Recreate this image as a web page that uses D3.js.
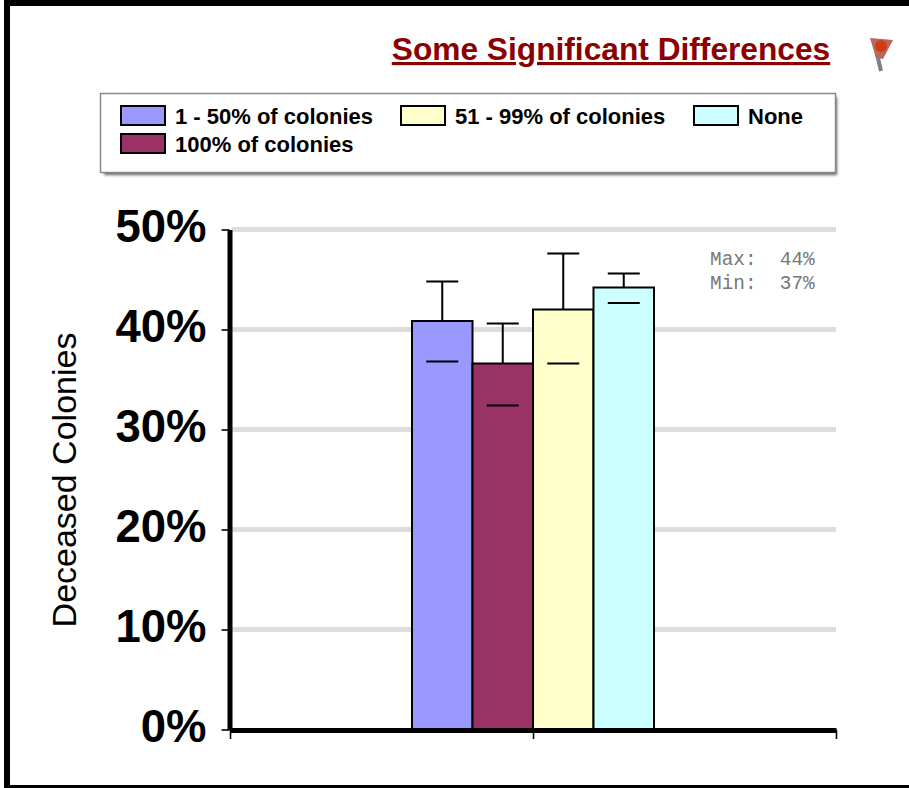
<!DOCTYPE html>
<html>
<head>
<meta charset="utf-8">
<script src="https://cdnjs.cloudflare.com/ajax/libs/d3/7.8.5/d3.min.js"></script>
<style>
  html, body { margin: 0; padding: 0; background: #fff; overflow: hidden; }
  text { font-family: "Liberation Sans", Arial, sans-serif; }
</style>
</head>
<body>
<script>
// Values (percent of deceased colonies)
const categories = ["1 - 50% of colonies", "100% of colonies", "51 - 99% of colonies", "None"];
const barValues = [40.85, 36.6, 42.0, 44.2];
const errHigh = [44.8, 40.6, 47.6, 45.6];
const errLow = [36.8, 32.4, 36.6, 42.65];
const barColors = ["#9999ff", "#993366", "#ffffcc", "#ccffff"];
const yTicks = [0, 10, 20, 30, 40, 50];
const statLines = ["Max:  44%", "Min:  37%"];

const svg = d3.select("body").append("svg")
    .attr("width", 909)
    .attr("height", 788);

const defs = svg.append("defs");
defs.append("filter").attr("id", "soft")
    .attr("x", "-10%").attr("y", "-20%").attr("width", "120%").attr("height", "140%")
    .append("feGaussianBlur").attr("stdDeviation", 1.6);
defs.append("filter").attr("id", "softFlag")
    .append("feGaussianBlur").attr("stdDeviation", 0.6);

// Outer frame (left, top and bottom edges)
svg.append("path")
    .attr("d", "M4,0H909V6H10V785H909V788H4Z")
    .attr("fill", "#000");

// Title
svg.append("text")
    .attr("x", 611)
    .attr("y", 60)
    .attr("text-anchor", "middle")
    .attr("font-size", 31.7)
    .attr("font-weight", "bold")
    .attr("fill", "#8b0000")
    .attr("text-decoration", "underline")
    .text("Some Significant Differences");

// Little flag next to the title
const flag = svg.append("g").attr("transform", "translate(880,50)");
flag.append("path")
    .attr("d", "M-3,4L1,21")
    .attr("stroke", "#77808c")
    .attr("stroke-width", 4);
const flagHead = flag.append("g").attr("filter", "url(#softFlag)");
flagHead.append("path")
    .attr("d", "M-10,-12L13,-10L3,9L-4,8Z")
    .attr("fill", "#b9685c");
flagHead.append("circle")
    .attr("r", 6)
    .attr("cx", 1)
    .attr("cy", -4)
    .attr("fill", "#d23c14");

// Scales
const y = d3.scaleLinear().domain([0, 50]).range([729.5, 229.5]);
const xOuter = d3.scaleBand().domain(["all"]).range([230, 836]);
const groupW = 242;
const groupMid = xOuter("all") + xOuter.bandwidth() / 2;
const x = d3.scaleBand().domain(categories).range([groupMid - groupW / 2, groupMid + groupW / 2]);

// Grid lines
svg.append("g").selectAll("line")
    .data(yTicks.filter(d => d > 0))
    .join("line")
    .attr("x1", 232)
    .attr("x2", 836)
    .attr("y1", d => y(d))
    .attr("y2", d => y(d))
    .attr("stroke", "#dddddd")
    .attr("stroke-width", 5);

// Error bars first so the bars sit on top of the stems, low caps drawn after
const bw = x.bandwidth();
const capW = 16;

svg.append("g").selectAll("line")
    .data(categories)
    .join("line")
    .attr("x1", d => x(d) + bw / 2)
    .attr("x2", d => x(d) + bw / 2)
    .attr("y1", (d, i) => y(barValues[i]))
    .attr("y2", (d, i) => y(errHigh[i]))
    .attr("stroke", "#000")
    .attr("stroke-width", 2);

svg.append("g").selectAll("line")
    .data(categories)
    .join("line")
    .attr("x1", d => x(d) + bw / 2 - capW)
    .attr("x2", d => x(d) + bw / 2 + capW)
    .attr("y1", (d, i) => y(errHigh[i]))
    .attr("y2", (d, i) => y(errHigh[i]))
    .attr("stroke", "#000")
    .attr("stroke-width", 2);

// Bars
svg.append("g").selectAll("rect")
    .data(categories)
    .join("rect")
    .attr("x", d => x(d))
    .attr("y", (d, i) => y(barValues[i]))
    .attr("width", bw)
    .attr("height", (d, i) => y(0) - y(barValues[i]))
    .attr("fill", (d, i) => barColors[i])
    .attr("stroke", "#000")
    .attr("stroke-width", 2);

// Lower caps
svg.append("g").selectAll("line")
    .data(categories)
    .join("line")
    .attr("x1", d => x(d) + bw / 2 - capW)
    .attr("x2", d => x(d) + bw / 2 + capW)
    .attr("y1", (d, i) => y(errLow[i]))
    .attr("y2", (d, i) => y(errLow[i]))
    .attr("stroke", "#000")
    .attr("stroke-width", 2);

// Y axis
const yAxis = d3.axisLeft(y).tickValues(yTicks).tickFormat(d => d + "%")
    .tickSizeInner(8).tickSizeOuter(0).tickPadding(15);
const yG = svg.append("g").attr("transform", "translate(229.5,0)").call(yAxis);
yG.select(".domain").attr("stroke-width", 5);
yG.selectAll(".tick line").attr("stroke-width", 1.6);
yG.selectAll(".tick text")
    .attr("font-family", "Liberation Sans")
    .attr("font-size", 45.5)
    .attr("font-weight", "bold")
    .attr("fill", "#000")
    .attr("dy", "0.27em");

// X axis, one unlabelled group
const xAxis = d3.axisBottom(d3.scaleLinear().domain([0, 2]).range([230, 836]))
    .tickValues([0, 1, 2]).tickFormat("").tickSizeInner(9).tickSizeOuter(0);
const xG = svg.append("g").attr("transform", "translate(0,730)").call(xAxis);
xG.select(".domain").attr("stroke-width", 5);
xG.selectAll(".tick line").attr("stroke-width", 1.6);

// Y axis title
svg.append("text")
    .attr("transform", "translate(76,480) rotate(-90)")
    .attr("text-anchor", "middle")
    .attr("font-size", 34)
    .attr("fill", "#000")
    .text("Deceased Colonies");

// Max / min note
svg.append("g").selectAll("text")
    .data(statLines)
    .join("text")
    .attr("x", 710)
    .attr("y", (d, i) => 265 + i * 24)
    .style("font-family", "'Liberation Mono', monospace")
    .attr("font-size", 19.4)
    .attr("fill", "#777")
    .style("white-space", "pre")
    .text(d => d);

// Legend
svg.append("rect")
    .attr("x", 104).attr("y", 97).attr("width", 733).attr("height", 78)
    .attr("fill", "#666")
    .attr("filter", "url(#soft)");
svg.append("rect")
    .attr("x", 100.5).attr("y", 93.5).attr("width", 735).attr("height", 79)
    .attr("fill", "#fff")
    .attr("stroke", "#888")
    .attr("stroke-width", 1.5);

const legendX = [121, 401, 694, 121];
const legendY = [106, 106, 106, 134];
const legendOrder = ["1 - 50% of colonies", "51 - 99% of colonies", "None", "100% of colonies"];
const legend = svg.append("g").selectAll("g")
    .data(legendOrder)
    .join("g")
    .attr("transform", (d, i) => `translate(${legendX[i]},${legendY[i]})`);
legend.append("rect")
    .attr("width", 44)
    .attr("height", 19)
    .attr("fill", d => barColors[categories.indexOf(d)])
    .attr("stroke", "#000")
    .attr("stroke-width", 2);
legend.append("text")
    .attr("x", 54)
    .attr("y", 18)
    .attr("font-size", 22)
    .attr("font-weight", "bold")
    .attr("fill", "#000")
    .text(d => d);
</script>
</body>
</html>
